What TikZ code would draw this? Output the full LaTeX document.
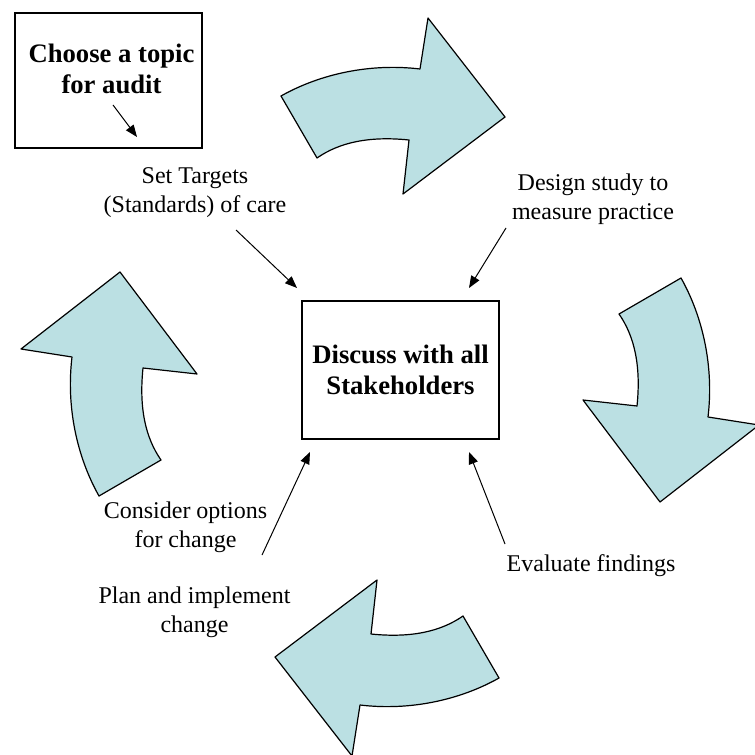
\documentclass[tikz,border=0pt]{standalone}
\usepackage{fontspec}
\setmainfont{Liberation Serif}
\usetikzlibrary{arrows.meta}
\definecolor{cycleBlue}{RGB}{187,224,227}
\begin{document}
\begin{tikzpicture}[x=0.75pt, y=-0.75pt,
  every node/.style={font=\fontsize{18}{21.75}\selectfont, align=center},
  stepnote/.style={anchor=base},
  bigbox/.style={draw, line width=1pt, inner sep=0pt},
  boxtext/.style={font=\fontsize{20}{23.5}\selectfont\bfseries},
  pointer/.style={-{Triangle[length=9pt,width=7pt]}, line width=0.75pt},
  cyclearrow/.style={fill=cycleBlue, draw=black, line width=0.9pt, line join=round}]

  \useasboundingbox (0,0) rectangle (755,755);

  % Cycle arrows round the centre
  \foreach \ang in {0,-90,-180,-270}
    \draw[cyclearrow, shift={(390,387)}, rotate=\ang]
      (-109,-291) .. controls (-70,-313) and (-20,-324) .. (30,-318)
      -- (38,-369) -- (115,-270) -- (13,-193) -- (19,-247)
      .. controls (-20,-251) and (-50,-245) .. (-73,-229) -- cycle;

  % Boxes
  \node[bigbox, minimum width=140.25pt, minimum height=101.25pt] (topic) at (108.5,80.5) {};
  \node[boxtext, anchor=base] (topictext) at (111.5,94) {Choose a topic\\for audit};
  \node[bigbox, boxtext, minimum width=147.75pt, minimum height=103.5pt]
    (discuss) at (400.5,370) {Discuss with all\\Stakeholders};

  % Steps of the cycle (base = last line)
  \node[stepnote] (targets) at (195,213) {Set Targets\\(Standards) of care};
  \node[stepnote] (design) at (593,220) {Design study to\\measure practice};
  \node[stepnote] (evaluate) at (591,571) {Evaluate findings};
  \node[stepnote] (consider) at (185.5,547) {Consider options\\for change};
  \node[stepnote] (plan) at (194.5,632) {Plan and implement\\change};

  % Arrow ends
  \coordinate (topic-a) at (113,105);
  \coordinate (topic-b) at (137,137);
  \coordinate (targets-a) at (236,230);
  \coordinate (targets-b) at (297,288);
  \coordinate (design-a) at (506,228);
  \coordinate (design-b) at (469,288);
  \coordinate (consider-a) at (262,555);
  \coordinate (consider-b) at (310,452);
  \coordinate (evaluate-a) at (505,544);
  \coordinate (evaluate-b) at (469,452);

  % Pointers
  \draw[pointer] (topic-a) -- (topic-b);
  \draw[pointer] (targets-a) -- (targets-b);
  \draw[pointer] (design-a) -- (design-b);
  \draw[pointer] (consider-a) -- (consider-b);
  \draw[pointer] (evaluate-a) -- (evaluate-b);
\end{tikzpicture}
\end{document}
